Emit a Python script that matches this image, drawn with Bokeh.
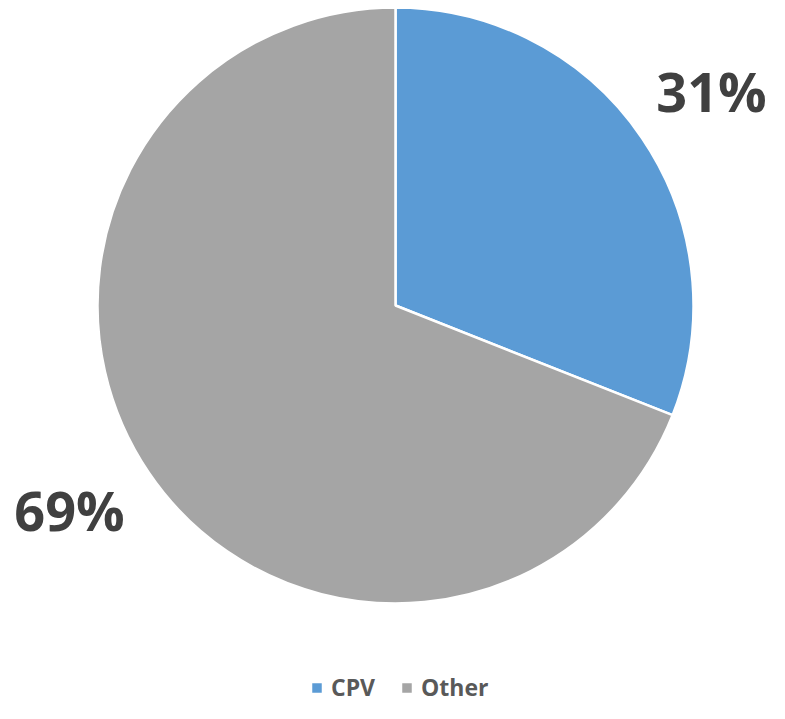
import math
from bokeh.plotting import figure
from bokeh.models import Legend, LegendItem, ColumnDataSource
from bokeh.core.properties import value
from bokeh.embed import file_html
from bokeh.resources import INLINE

categories = ["CPV", "Other"]
shares = [31, 69]
colors = ["#5B9BD5", "#A5A5A5"]

W, H = 769, 703
p = figure(width=W, height=H, x_range=(0, W), y_range=(0, H),
           output_backend="svg", toolbar_location=None, min_border=0,
           outline_line_color=None)
p.axis.visible = False
p.grid.visible = False
p.background_fill_color = "white"

cx, cy, r = 395, H - 305, 298
total = sum(shares)
starts, ends, mids = [], [], []
a = math.pi / 2
for s in shares:
    span = 2 * math.pi * s / total
    starts.append(a - span)
    ends.append(a)
    mids.append(a - span / 2)
    a -= span

src = ColumnDataSource(dict(cat=categories, start=starts, end=ends, color=colors))
rend = p.wedge(x=cx, y=cy, radius=r, start_angle="start", end_angle="end",
               fill_color="color", line_color="white", line_width=2.5, source=src)

lr = 1.3 * r
off = math.radians(-1.5)
half_w = 58  # half text width, keeps label inside the canvas
lx = [min(max(cx + lr * math.cos(m + off), half_w), W - half_w) for m in mids]
ly = [cy + lr * math.sin(m + off) + 5 for m in mids]
labels = [f"{s}%" for s in shares]
p.text(x=lx, y=ly, text=labels, text_font=value("Open Sans"), text_font_style="bold",
       text_font_size="54px", text_color="#404040", text_align="center",
       text_baseline="middle")

items = [LegendItem(label=c, renderers=[rend], index=i) for i, c in enumerate(categories)]
legend = Legend(items=items, orientation="horizontal", location=(309, 0),
                label_text_font="Open Sans", label_text_font_style="bold",
                label_text_font_size="23px", label_text_color="#595959",
                glyph_width=15, glyph_height=15, label_standoff=7, spacing=24,
                border_line_color=None, background_fill_alpha=0, padding=0, margin=0)
p.add_layout(legend, "center")

open("out.html", "w").write(file_html(p, INLINE))
